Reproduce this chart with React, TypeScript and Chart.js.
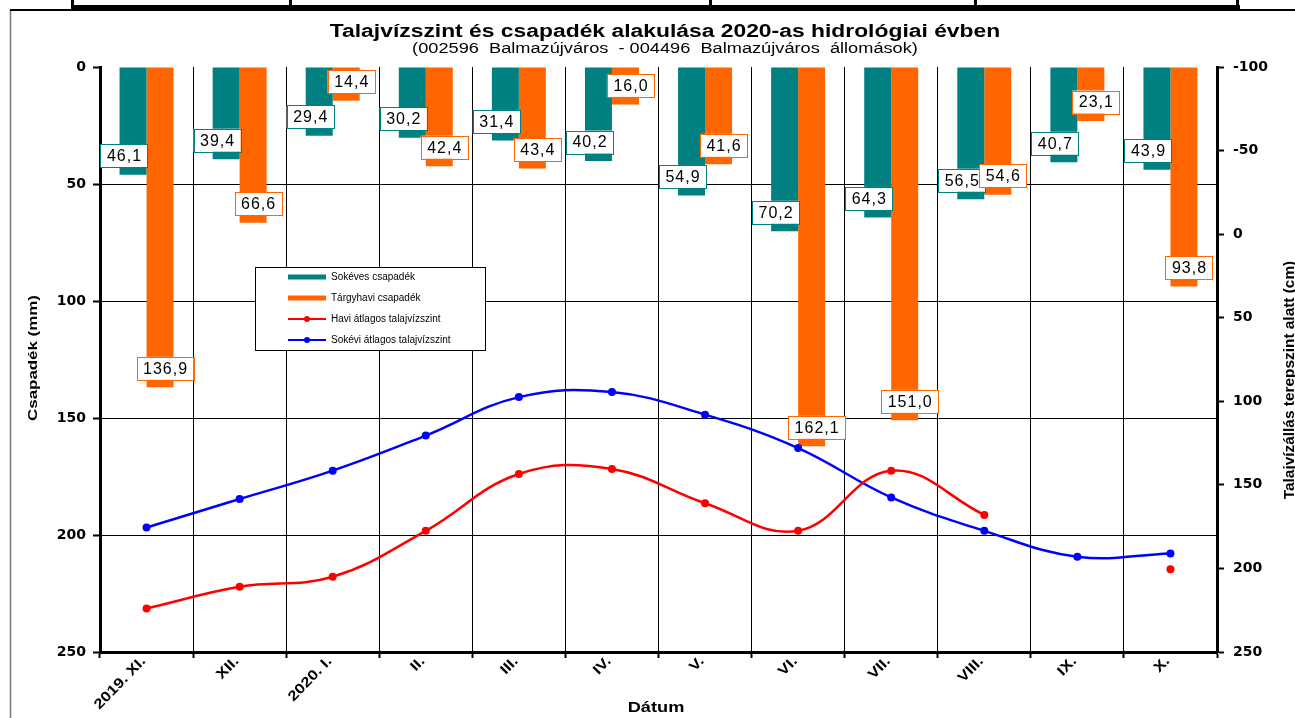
import React, { useEffect, useRef } from "react";
import { Chart, registerables } from "chart.js";

Chart.register(...registerables);

const categories = ["2019. XI.", "XII.", "2020. I.", "II.", "III.", "IV.", "V.", "VI.", "VII.", "VIII.", "IX.", "X."];
const longTermPrecip = [46.1, 39.4, 29.4, 30.2, 31.4, 40.2, 54.9, 70.2, 64.3, 56.5, 40.7, 43.9];
const monthlyPrecip = [136.9, 66.6, 14.4, 42.4, 43.4, 16.0, 41.6, 162.1, 151.0, 54.6, 23.1, 93.8];
const monthlyGW: (number | null)[] = [224, 211, 205, 177.5, 143.5, 140.5, 161, 177.5, 141.5, 168, null, 200.5];
const longTermGW = [175.5, 158.5, 141.5, 120.5, 97.5, 94.5, 108, 128, 157.5, 177.5, 193, 191];
const leftTicks = [0, 50, 100, 150, 200, 250];
const rightTicks = [-100, -50, 0, 50, 100, 150, 200, 250];

const seriesNames = ["Sokéves csapadék", "Tárgyhavi csapadék", "Havi átlagos talajvízszint", "Sokévi átlagos talajvízszint"];
const titleText = "Talajvízszint és csapadék alakulása 2020-as hidrológiai évben";
const subtitleText = "(002596  Balmazújváros  - 004496  Balmazújváros  állomások)";

const TEAL = "#008080";
const ORANGE = "#FF6600";
const RED = "#FF0000";
const BLUE = "#0000FF";
const SANS = 'Arial, "Liberation Sans", sans-serif';
const WIDE = '"DejaVu Sans", Verdana, sans-serif';

const fmt = (v: number) => v.toFixed(1).replace(".", ",");

function stretchedText(ctx: any, text: string, x: number, y: number, font: string, sx: number, angle = 0, align = "center") {
  ctx.save();
  ctx.translate(x, y);
  if (angle) ctx.rotate(angle);
  ctx.scale(sx, 1);
  ctx.font = font;
  ctx.textAlign = align;
  ctx.textBaseline = "middle";
  ctx.fillText(text, 0, 0);
  ctx.restore();
}

const decorPlugin = {
  id: "decor",
  beforeDraw(chart: any) {
    const ctx = chart.ctx;
    ctx.save();
    ctx.fillStyle = "#fff";
    ctx.fillRect(0, 0, chart.width, chart.height);
    ctx.strokeStyle = "#777";
    ctx.lineWidth = 1.5;
    ctx.beginPath();
    ctx.moveTo(10.5, 10);
    ctx.lineTo(10.5, chart.height);
    ctx.stroke();
    ctx.fillStyle = "#000";
    ctx.fillRect(10, 9, chart.width - 10, 2);
    ctx.fillRect(72, 5, 1168, 5);
    [72, 290, 710, 975, 1237].forEach((x) => ctx.fillRect(x - 1, 0, 3, 9));
    ctx.restore();
  },
  afterDraw(chart: any) {
    const ctx = chart.ctx;
    ctx.save();
    ctx.fillStyle = "#000";
    stretchedText(ctx, titleText, 665, 32, `bold 18px ${SANS}`, 1.27);
    stretchedText(ctx, subtitleText, 665, 49, `14px ${SANS}`, 1.3);
    stretchedText(ctx, "Dátum", 656, 708, `bold 14px ${SANS}`, 1.3);
    stretchedText(ctx, "Csapadék (mm)", 33, 358, `bold 13px ${SANS}`, 1.3, -Math.PI / 2);
    stretchedText(ctx, "Talajvízállás terepszint alatt (cm)", 1290, 380, `bold 14px ${SANS}`, 1.1, -Math.PI / 2);

    // category labels (rotated)
    const xs = chart.scales.x;
    categories.forEach((lab, i) => {
      const px = xs.getPixelForValue(i);
      stretchedText(ctx, lab, px - 3, 659, `bold 14px ${SANS}`, 1.2, -0.8, "right");
    });

    // legend
    const lx = 255, ly = 267, lw = 230, lh = 83;
    ctx.fillStyle = "#fff";
    ctx.fillRect(lx, ly, lw, lh);
    ctx.strokeStyle = "#000";
    ctx.lineWidth = 1;
    ctx.strokeRect(lx + 0.5, ly + 0.5, lw, lh);
    const ys = [277, 298, 319, 340];
    const cols = [TEAL, ORANGE, RED, BLUE];
    ctx.textBaseline = "middle";
    ys.forEach((y, i) => {
      ctx.strokeStyle = cols[i];
      ctx.lineWidth = i < 2 ? 5 : 2;
      ctx.beginPath();
      ctx.moveTo(288, y);
      ctx.lineTo(326, y);
      ctx.stroke();
      if (i >= 2) {
        ctx.fillStyle = cols[i];
        ctx.beginPath();
        ctx.arc(307, y, 3, 0, Math.PI * 2);
        ctx.fill();
      }
      ctx.fillStyle = "#000";
      ctx.textAlign = "left";
      ctx.font = `10px ${SANS}`;
      ctx.fillText(seriesNames[i], 331, y);
    });
    ctx.restore();
  },
  afterDatasetsDraw(chart: any) {
    const ctx = chart.ctx;
    ctx.save();
    ctx.font = `16px ${SANS}`;
    try { (ctx as any).letterSpacing = "1px"; } catch (e) {}
    ctx.textAlign = "center";
    ctx.textBaseline = "middle";
    [0, 1].forEach((di) => {
      const meta = chart.getDatasetMeta(di);
      const data = chart.data.datasets[di].data as number[];
      const col = di === 0 ? TEAL : ORANGE;
      const dx = di === 0 ? -9 : 5;
      meta.data.forEach((bar: any, i: number) => {
        const txt = fmt(data[i]);
        const w = ctx.measureText(txt).width + 12;
        const h = 23;
        const cx = bar.x + dx;
        const cy = bar.y - 19;
        ctx.fillStyle = "#fff";
        ctx.fillRect(cx - w / 2, cy - h / 2, w, h);
        ctx.strokeStyle = col;
        ctx.lineWidth = 1;
        ctx.strokeRect(Math.round(cx - w / 2) + 0.5, Math.round(cy - h / 2) + 0.5, Math.round(w), h);
        ctx.fillStyle = "#000";
        ctx.fillText(txt, cx + 0.5, cy + 1);
      });
    });
    ctx.restore();
  },
};

export default function App() {
  const ref = useRef<HTMLCanvasElement | null>(null);
  useEffect(() => {
    if (!ref.current) return;
    const chart = new Chart(ref.current, {
      type: "bar",
      data: {
        labels: categories,
        datasets: [
          { type: "bar", label: seriesNames[0], data: longTermPrecip, backgroundColor: TEAL, yAxisID: "y", order: 2, categoryPercentage: 0.58, barPercentage: 1 } as any,
          { type: "bar", label: seriesNames[1], data: monthlyPrecip, backgroundColor: ORANGE, yAxisID: "y", order: 2, categoryPercentage: 0.58, barPercentage: 1 } as any,
          { type: "line", label: seriesNames[2], data: monthlyGW, borderColor: RED, backgroundColor: RED, borderWidth: 2.5, pointRadius: 4, pointBorderWidth: 0, pointBackgroundColor: RED, tension: 0.4, spanGaps: false, yAxisID: "y1", order: 0 } as any,
          { type: "line", label: seriesNames[3], data: longTermGW, borderColor: BLUE, backgroundColor: BLUE, borderWidth: 2.5, pointRadius: 4, pointBorderWidth: 0, pointBackgroundColor: BLUE, tension: 0.4, yAxisID: "y1", order: 1 } as any,
        ],
      },
      options: {
        responsive: false,
        animation: false,
        devicePixelRatio: 1,
        layout: { padding: { top: 67, left: 0, right: 0, bottom: 0 } },
        plugins: { legend: { display: false }, title: { display: false }, tooltip: { enabled: false } },
        scales: {
          x: {
            offset: true,
            grid: { offset: true, color: "#000", lineWidth: 1, drawTicks: true, tickLength: 6, tickColor: "#000", tickWidth: 2 },
            border: { color: "#000", width: 3 },
            ticks: { display: false, autoSkip: false },
            afterFit: (s: any) => { s.height = 66; },
          },
          y: {
            position: "left",
            reverse: true,
            min: 0,
            max: 250,
            afterBuildTicks: (s: any) => { s.ticks = leftTicks.map((v) => ({ value: v })); },
            grid: {
              color: (c: any) => (c.tick && (c.tick.value === 0 || c.tick.value === 250) ? "rgba(0,0,0,0)" : "#000"),
              lineWidth: 1,
              tickLength: 7,
              tickColor: "#000",
              tickWidth: 2,
            },
            border: { color: "#000", width: 3 },
            ticks: { color: "#000", font: { family: WIDE, size: 14, weight: "bold" }, padding: 7 },
            afterFit: (s: any) => { s.width = 100; },
          },
          y1: {
            position: "right",
            reverse: true,
            min: -100,
            max: 250,
            afterBuildTicks: (s: any) => { s.ticks = rightTicks.map((v) => ({ value: v })); },
            grid: { drawOnChartArea: false, tickLength: 7, tickColor: "#000", tickWidth: 2 },
            border: { color: "#000", width: 3 },
            ticks: { color: "#000", font: { family: WIDE, size: 14, weight: "bold" }, padding: 9 },
            afterFit: (s: any) => { s.width = 78; },
          },
        },
      } as any,
      plugins: [decorPlugin],
    });
    return () => chart.destroy();
  }, []);
  return (
    <div style={{ position: "absolute", left: 0, top: 0, width: 1295, height: 718, background: "#fff" }}>
      <canvas ref={ref} width={1295} height={718} style={{ display: "block" }} />
    </div>
  );
}
